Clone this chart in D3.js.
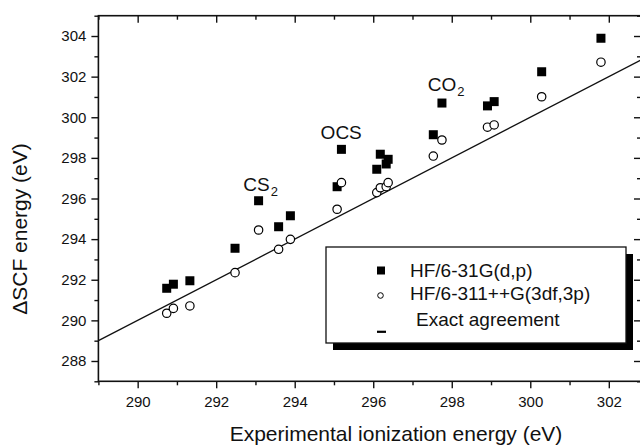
<!DOCTYPE html>
<html>
<head>
<meta charset="utf-8">
<script src="https://cdn.jsdelivr.net/npm/d3@7"></script>
<style>
  body { margin: 0; background: #fff; }
  svg { display: block; }
  text { font-family: "Liberation Sans", Arial, Helvetica, sans-serif; fill: #111; }
</style>
</head>
<body>
<svg id="chart" width="640" height="447"></svg>
<script>
// Experimental core ionization energies (eV)
const experimental = [290.74, 290.91, 291.33, 292.48, 293.08, 293.59, 293.89, 295.08, 295.19,
                      296.09, 296.18, 296.33, 296.38, 297.53, 297.75, 298.91, 299.08, 300.29, 301.80];
// Delta-SCF energies, HF/6-31G(d,p)
const hfSmall = [291.58, 291.78, 291.95, 293.55, 295.89, 294.61, 295.15, 296.58, 298.42,
                 297.44, 298.18, 297.70, 297.93, 299.14, 300.70, 300.56, 300.77, 302.24, 303.89];
// Delta-SCF energies, HF/6-311++G(3df,3p)
const hfLarge = [290.35, 290.59, 290.71, 292.35, 294.45, 293.50, 293.99, 295.47, 296.78,
                 296.29, 296.53, 296.58, 296.78, 298.09, 298.88, 299.51, 299.62, 301.01, 302.71];

const seriesNames = ["HF/6-31G(d,p)", "HF/6-311++G(3df,3p)", "Exact agreement"];
const xTickValues = [290, 292, 294, 296, 298, 300, 302];
const xMinorValues = [289, 291, 293, 295, 297, 299, 301];
const yTickValues = [288, 290, 292, 294, 296, 298, 300, 302, 304];
const yMinorValues = [287, 289, 291, 293, 295, 297, 299, 301, 303, 305];
const moleculeLabels = ["CS", "OCS", "CO"];
const moleculeSubs = ["2", "", "2"];
const moleculeAnchorX = [292.69, 294.66, 297.39];
const moleculeAnchorY = [296.38, 298.92, 301.31];

const svg = d3.select("#chart");
const plotLeft = 98.4, plotRight = 641, plotTop = 15.7, plotBottom = 381.3;

const x = d3.scaleLinear().domain([289, 302.82]).range([plotLeft, plotRight]);
const y = d3.scaleLinear().domain([287, 305]).range([plotBottom, plotTop]);

const fmt = d3.format("d");

// ---- axes ----
function styleAxis(g) {
  g.select(".domain").remove();
  g.selectAll("line").attr("stroke", "#111").attr("stroke-width", 1.4);
  g.selectAll("text").style("font-size", "15px").attr("fill", "#111");
}

svg.append("g").attr("transform", `translate(0,${plotBottom})`)
  .call(d3.axisBottom(x).tickValues(xTickValues).tickSize(7).tickPadding(8).tickFormat(fmt))
  .call(styleAxis);
svg.append("g").attr("transform", `translate(0,${plotBottom})`)
  .call(d3.axisBottom(x).tickValues(xMinorValues).tickSize(4).tickFormat(""))
  .call(styleAxis);
svg.append("g").attr("transform", `translate(0,${plotTop})`)
  .call(d3.axisTop(x).tickValues(xTickValues).tickSize(-7).tickFormat(""))
  .call(styleAxis);
svg.append("g").attr("transform", `translate(0,${plotTop})`)
  .call(d3.axisTop(x).tickValues(xMinorValues).tickSize(-4).tickFormat(""))
  .call(styleAxis);

svg.append("g").attr("transform", `translate(${plotLeft},0)`)
  .call(d3.axisLeft(y).tickValues(yTickValues).tickSize(7).tickPadding(5).tickFormat(fmt))
  .call(styleAxis);
svg.append("g").attr("transform", `translate(${plotLeft},0)`)
  .call(d3.axisLeft(y).tickValues(yMinorValues).tickSize(4).tickFormat(""))
  .call(styleAxis);
svg.append("g").attr("transform", `translate(${plotRight},0)`)
  .call(d3.axisRight(y).tickValues(yTickValues).tickSize(-7).tickFormat(""))
  .call(styleAxis);
svg.append("g").attr("transform", `translate(${plotRight},0)`)
  .call(d3.axisRight(y).tickValues(yMinorValues).tickSize(-4).tickFormat(""))
  .call(styleAxis);

// frame
svg.append("rect")
  .attr("x", plotLeft).attr("y", plotTop)
  .attr("width", plotRight - plotLeft).attr("height", plotBottom - plotTop)
  .attr("fill", "none").attr("stroke", "#111").attr("stroke-width", 1.6);

// ---- axis titles ----
svg.append("text")
  .attr("x", 396).attr("y", 441)
  .attr("text-anchor", "middle")
  .style("font-size", "21px")
  .text("Experimental ionization energy (eV)");

svg.append("text")
  .attr("transform", "translate(27,229) rotate(-90)")
  .attr("text-anchor", "middle")
  .style("font-size", "21px")
  .text("\u0394SCF energy (eV)");

// ---- exact agreement line (y = x) ----
svg.append("clipPath").attr("id", "plot-clip")
  .append("rect").attr("x", plotLeft).attr("y", plotTop)
  .attr("width", plotRight - plotLeft).attr("height", plotBottom - plotTop);

const diag = x.domain();
svg.append("line")
  .attr("clip-path", "url(#plot-clip)")
  .attr("x1", x(diag[0])).attr("y1", y(diag[0]))
  .attr("x2", x(diag[1])).attr("y2", y(diag[1]))
  .attr("stroke", "#111").attr("stroke-width", 1.3);

// ---- data points ----
const sq = 9;
svg.append("g").selectAll("rect")
  .data(experimental.map((e, i) => [e, hfSmall[i]]))
  .join("rect")
  .attr("x", d => x(d[0]) - sq / 2)
  .attr("y", d => y(d[1]) - sq / 2)
  .attr("width", sq).attr("height", sq)
  .attr("fill", "#000");

svg.append("g").selectAll("circle")
  .data(experimental.map((e, i) => [e, hfLarge[i]]))
  .join("circle")
  .attr("cx", d => x(d[0]))
  .attr("cy", d => y(d[1]))
  .attr("r", 4.2)
  .attr("fill", "#fff")
  .attr("stroke", "#000").attr("stroke-width", 1.2);

// ---- molecule labels ----
moleculeLabels.forEach((name, i) => {
  const t = svg.append("text")
    .attr("x", x(moleculeAnchorX[i])).attr("y", y(moleculeAnchorY[i]))
    .style("font-size", "19px")
    .text(name);
  if (moleculeSubs[i]) {
    t.append("tspan")
      .attr("dx", 1).attr("dy", 5.5)
      .style("font-size", "13px")
      .text(moleculeSubs[i]);
  }
});

// ---- legend ----
const lg = svg.append("g");
lg.append("rect").attr("x", 333).attr("y", 254).attr("width", 300).attr("height", 96).attr("fill", "#000");
lg.append("rect").attr("x", 326).attr("y", 247).attr("width", 300).attr("height", 96)
  .attr("fill", "#fff").attr("stroke", "#111").attr("stroke-width", 1.3);

lg.append("rect").attr("x", 377).attr("y", 266.5).attr("width", 8).attr("height", 8).attr("fill", "#000");
lg.append("circle").attr("cx", 380.5).attr("cy", 295.5).attr("r", 2.8)
  .attr("fill", "#fff").attr("stroke", "#000").attr("stroke-width", 1);
lg.append("rect").attr("x", 377).attr("y", 330.7).attr("width", 9).attr("height", 2.2).attr("fill", "#000");

const legendX = [410, 410, 416];
const legendY = [276.7, 299.5, 326];
seriesNames.forEach((name, i) => {
  lg.append("text")
    .attr("x", legendX[i]).attr("y", legendY[i])
    .style("font-size", "19px")
    .text(name);
});
</script>
</body>
</html>
